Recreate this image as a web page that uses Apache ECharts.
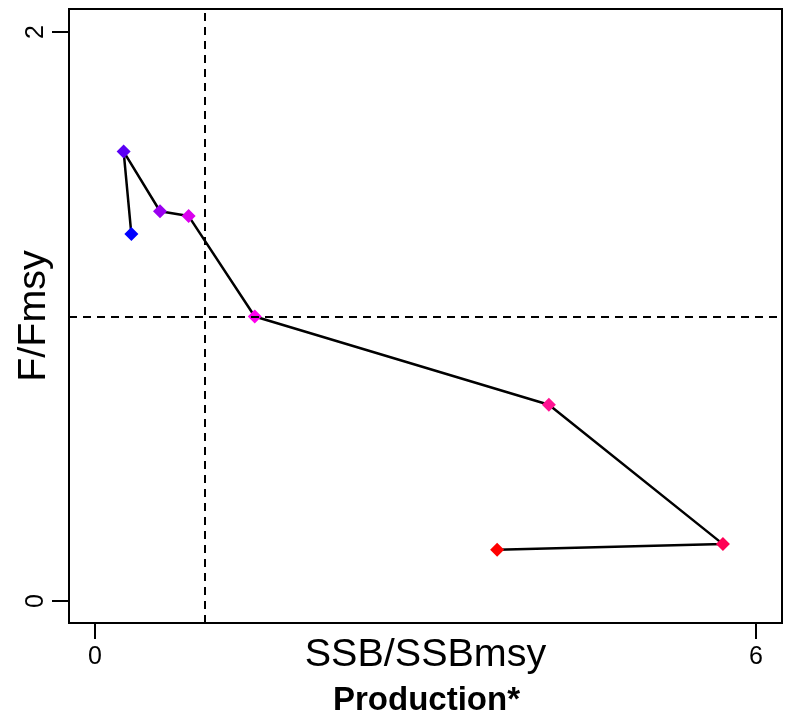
<!DOCTYPE html>
<html>
<head>
<meta charset="utf-8">
<script src="https://cdn.jsdelivr.net/npm/echarts@6/dist/echarts.min.js"></script>
<style>
html,body{margin:0;padding:0;background:#fff;}
#c{width:793px;height:723px;}
</style>
</head>
<body>
<div id="c"></div>
<script>
// Data (path order, first = blue, last = red)
const ssb = [0.33, 0.26, 0.59, 0.85, 1.45, 4.12, 5.70, 3.65];
const fRatio = [1.29, 1.58, 1.37, 1.353, 1.00, 0.69, 0.20, 0.18];
const pointColors = ['#0000FF', '#5A00F5', '#9A00F0', '#DA00EE', '#FF00EE', '#FF1493', '#FF0055', '#FF0000'];
const xTicks = [0, 6];
const yTicks = [0, 2];
const refX = 1;
const refY = 1;

const FONT = 'Liberation Sans, Arial, Helvetica, sans-serif';
const chart = echarts.init(document.getElementById('c'), null, {renderer: 'canvas'});

const pts = ssb.map((x, i) => ({value: [x, fRatio[i]], itemStyle: {color: pointColors[i]}}));

chart.setOption({
  backgroundColor: '#fff',
  animation: false,
  grid: {left: 69, right: 11, top: 9, bottom: 100, containLabel: false, outerBoundsMode: 'none',
         show: true, borderColor: '#000', borderWidth: 2, backgroundColor: 'transparent'},
  title: {
    text: 'Production*', left: 328, top: 679,
    textStyle: {fontFamily: FONT, fontSize: 33, fontWeight: 'bold', color: '#000'}
  },
  xAxis: {
    type: 'value', min: -0.236, max: 6.236,
    name: 'SSB/SSBmsy', nameLocation: 'middle', nameGap: 32, nameMoveOverlap: false,
    nameTextStyle: {fontFamily: FONT, fontSize: 39.5, color: '#000', verticalAlign: 'middle'},
    axisLine: {show: false, onZero: false},
    splitLine: {show: false},
    axisTick: {show: true, inside: false, customValues: xTicks, length: 16, lineStyle: {color: '#000', width: 2}},
    axisLabel: {customValues: xTicks, margin: 34, verticalAlign: 'middle', fontFamily: FONT, fontSize: 25, color: '#000', formatter: v => String(v)}
  },
  yAxis: {
    type: 'value', min: -0.0773, max: 2.081,
    name: 'F/Fmsy', nameLocation: 'middle', nameGap: 35, nameMoveOverlap: false,
    nameTextStyle: {fontFamily: FONT, fontSize: 39.5, color: '#000', verticalAlign: 'middle'},
    axisLine: {show: false, onZero: false},
    splitLine: {show: false},
    axisTick: {show: true, inside: false, customValues: yTicks, length: 17, lineStyle: {color: '#000', width: 2}},
    axisLabel: {customValues: yTicks, margin: 20, rotate: 90, fontFamily: FONT, fontSize: 25, color: '#000', formatter: v => String(v)}
  },
  series: [
    {
      type: 'line',
      data: pts,
      symbol: 'diamond', symbolSize: 14,
      showSymbol: true,
      lineStyle: {color: '#000', width: 2.5},
      z: 3,
      markLine: {
        silent: true, symbol: 'none',
        label: {show: false},
        lineStyle: {color: '#000', width: 2, type: [8, 6]},
        data: [{xAxis: refX}, {yAxis: refY}]
      }
    }
  ]
});
</script>
</body>
</html>
